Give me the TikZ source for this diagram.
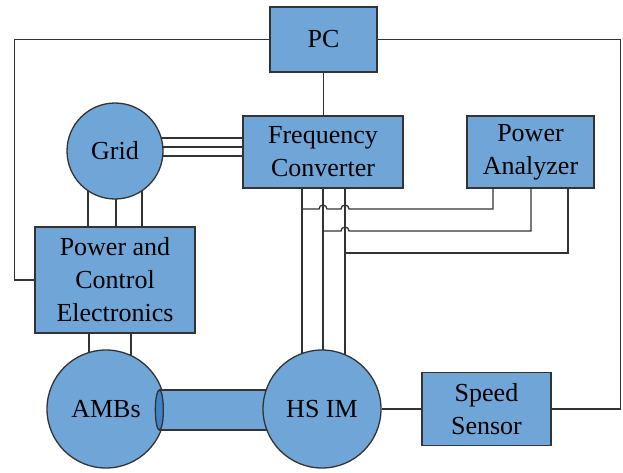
\documentclass[tikz,border=0pt]{standalone}
\usepackage{fontspec}
\setmainfont{Liberation Serif}
\usepackage{xcolor}
\usepackage{tikz}
\usetikzlibrary{backgrounds}

\definecolor{blockblue}{HTML}{6FA5D7}
\definecolor{shaftend}{HTML}{3F82C6}
\definecolor{edgegray}{HTML}{333333}

\begin{document}
\begin{tikzpicture}[
    x=1pt, y=-1pt,
    font=\fontsize{26}{33}\selectfont,
    block/.style={draw=edgegray, line width=1.3pt, fill=blockblue, align=center, inner sep=0pt},
    machine/.style={draw=edgegray, line width=1.3pt, fill=blockblue, circle, inner sep=0pt},
    wire/.style={draw=edgegray, line width=1.3pt}
]
\useasboundingbox (0,0) rectangle (623,472);

\node[block, minimum width=107pt, minimum height=65pt] (pc) at (323.5,39.5) {PC};
\node[block, minimum width=160pt, minimum height=72pt] (fc) at (323,152) {Frequency\\Converter};
\node[block, minimum width=127pt, minimum height=72pt] (pa) at (530.5,152) {Power\\Analyzer};
\node[machine, minimum size=96pt] (grid) at (115,151) {Grid};
\node[block, minimum width=160pt, minimum height=106pt] (pce) at (115,280) {Power and\\Control\\Electronics};
\node[block, minimum width=129pt, minimum height=73pt] (ss) at (486.5,409) {Speed\\Sensor};

% motor and bearings with the shaft between them
\node[machine, minimum size=118pt] (amb) at (106,409) {AMBs};
\node[block, minimum width=108pt, minimum height=40pt] (shaft) at (214,410) {};
\draw[draw=edgegray, line width=1.3pt, fill=shaftend] (shaft.west) ellipse (4 and 20);
\node[machine, minimum size=118pt] (hsim) at (322,409) {HS IM};

\begin{scope}[on background layer]
% PC links
\draw[wire] (pc.west) -| ([xshift=-20pt]pce.west) -- (pce.west);
\draw[wire] (pc.east) -| ([xshift=69pt]ss.east) -- (ss.east);
\draw[wire] (pc.south) -- (pc.south |- fc.north);
% three phase lines
\foreach \y in {138,147,156}
    \draw[wire] (grid.center |- 0,\y) -- (fc.west |- 0,\y);
\foreach \x in {88,116,142}
    \draw[wire] (\x,0 |- grid.center) -- (\x,0 |- pce.north);
\foreach \x in {89,131}
    \draw[wire] (\x,0 |- pce.south) -- (\x,0 |- amb.center);
\foreach \x in {302,323,345}
    \draw[wire] (\x,0 |- fc.south) -- (\x,0 |- hsim.center);
% measurement lines to the analyzer
\draw[wire] (302,209) -- (319,209) arc[start angle=180, end angle=0, radius=4pt]
    -- (341,209) arc[start angle=180, end angle=0, radius=4pt]
    -- (493,209) -- (493,0 |- pa.south);
\draw[wire] (323,231) -- (341,231) arc[start angle=180, end angle=0, radius=4pt]
    -- (531,231) -- (531,0 |- pa.south);
\draw[wire] (345,253) -- (568,253) -- (568,0 |- pa.south);
\draw[wire] (hsim.east) -- (hsim.east -| ss.west);
\end{scope}
\end{tikzpicture}
\end{document}
